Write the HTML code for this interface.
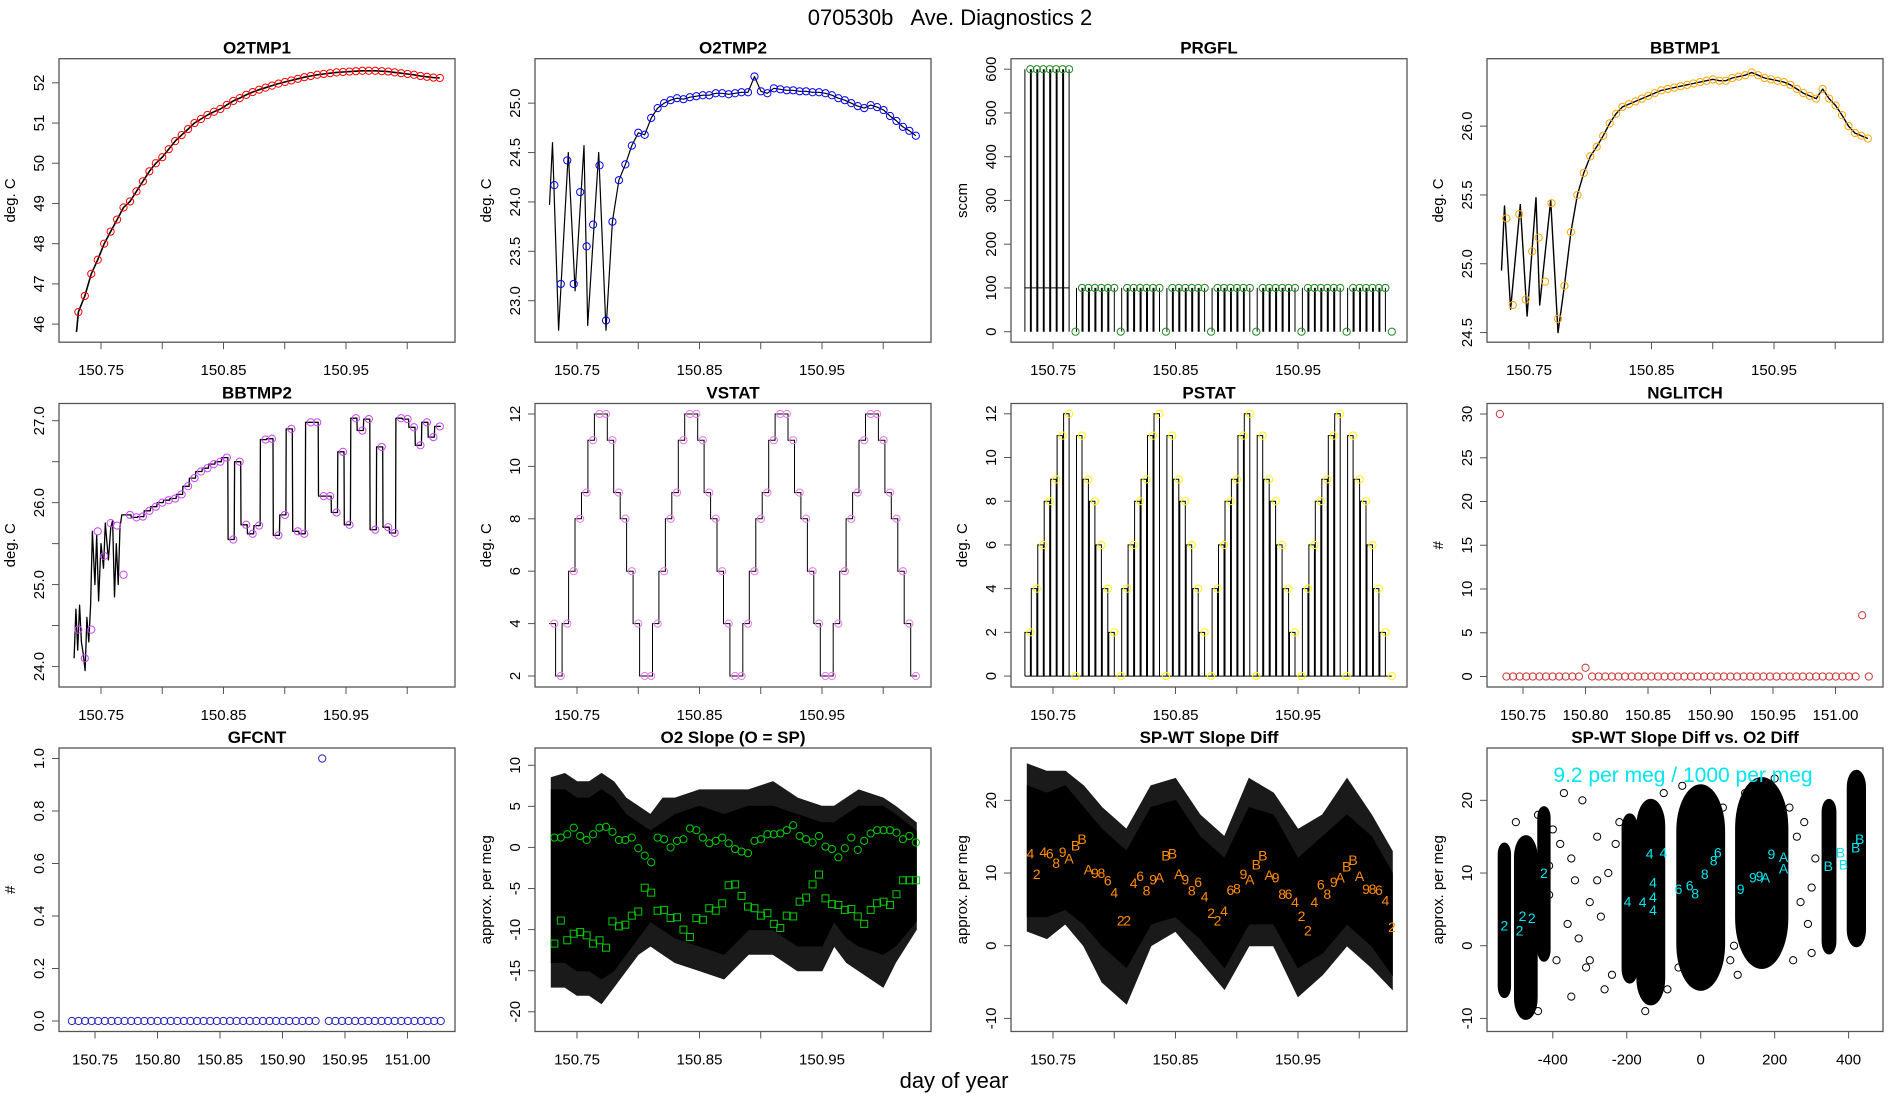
<!DOCTYPE html>
<html><head><meta charset="utf-8">
<style>
html,body{margin:0;padding:0;background:#fff;}
svg{display:block;font-family:"Liberation Sans",Arial,sans-serif;}
</style></head>
<body>
<svg id="root" xmlns="http://www.w3.org/2000/svg" width="1900" height="1100" viewBox="0 0 1900 1100">
<rect x="0" y="0" width="1900" height="1100" fill="#fff"/>
<text x="950" y="25" text-anchor="middle" font-size="22" fill="#000" xml:space="preserve">070530b   Ave. Diagnostics 2</text>
<text x="954" y="1088" text-anchor="middle" font-size="22" fill="#000">day of year</text>
</svg>
<script>
// ---------- DATA ----------
const sampleCount = 57;
const sampleStart = 150.7315;
const sampleStep = 0.00527;
const T = [];
for (let i = 0; i < sampleCount; i++) T.push(sampleStart + i * sampleStep);

const o2tmp1Values = [46.3,46.7,47.25,47.6,48.0,48.3,48.6,48.9,49.05,49.3,49.55,49.8,50.0,50.15,50.35,50.55,50.7,50.85,51.0,51.1,51.2,51.28,51.35,51.45,51.55,51.62,51.7,51.77,51.83,51.88,51.93,51.98,52.02,52.06,52.1,52.14,52.17,52.2,52.22,52.24,52.26,52.27,52.28,52.29,52.3,52.3,52.3,52.29,52.28,52.26,52.24,52.22,52.2,52.17,52.15,52.13,52.12];

const o2tmp2Values = [24.17,23.17,24.42,23.17,24.1,23.55,23.77,24.37,22.8,23.8,24.22,24.38,24.57,24.7,24.68,24.85,24.95,25.0,25.03,25.05,25.04,25.06,25.07,25.08,25.08,25.1,25.1,25.09,25.1,25.11,25.11,25.27,25.12,25.1,25.15,25.14,25.13,25.13,25.12,25.12,25.11,25.11,25.1,25.08,25.05,25.03,25.0,24.97,24.95,24.98,24.96,24.93,24.87,24.82,24.76,24.72,24.67];
const o2tmp2EarlyT = [150.7275,150.7300,150.7350,150.7429,150.7484,150.7557,150.7587,150.7677,150.7737];
const o2tmp2EarlyV = [23.97,24.6,22.7,24.5,23.1,24.57,22.75,24.5,22.7];

const prgflValues = [600,600,600,600,600,600,600,0,100,100,100,100,100,100,0,100,100,100,100,100,100,0,100,100,100,100,100,100,0,100,100,100,100,100,100,0,100,100,100,100,100,100,0,100,100,100,100,100,100,0,100,100,100,100,100,100,0];

const bbtmp1Values = [25.33,24.7,25.36,24.74,25.09,25.19,24.87,25.44,24.6,24.84,25.23,25.5,25.66,25.78,25.85,25.93,26.02,26.09,26.14,26.16,26.18,26.2,26.22,26.24,26.26,26.27,26.28,26.29,26.3,26.31,26.32,26.33,26.34,26.33,26.33,26.35,26.36,26.37,26.39,26.37,26.35,26.34,26.33,26.32,26.3,26.27,26.24,26.22,26.2,26.27,26.2,26.15,26.08,26.0,25.95,25.93,25.91];
const bbtmp1EarlyT = [150.7275,150.7300,150.7350,150.7429,150.7484,150.7557,150.7587,150.7677,150.7737];
const bbtmp1EarlyV = [24.95,25.42,24.67,25.43,24.62,25.48,24.7,25.46,24.5];

const bbtmp2Values = [24.45,24.1,24.45,25.65,25.35,25.75,25.72,25.12,25.85,25.82,25.83,25.9,25.95,26.0,26.03,26.05,26.1,26.2,26.3,26.38,26.42,26.47,26.5,26.55,25.55,26.5,25.73,25.62,25.72,26.77,26.78,25.6,25.85,26.9,25.65,25.62,26.98,26.98,26.08,26.08,25.88,26.62,25.73,27.03,26.88,27.02,25.67,26.68,25.7,25.63,27.03,27.02,26.92,26.7,26.98,26.8,26.93];
const bbtmp2EarlyT = [150.728,150.7295,150.731,150.7325,150.734,150.7355,150.737,150.7385,150.740,150.7415,150.743,150.745,150.7465,150.748,150.750,150.752,150.7535,150.756,150.758,150.7595,150.761,150.7625,150.764,150.7655,150.767];
const bbtmp2EarlyV = [24.1,24.7,24.2,24.75,24.3,24.15,23.95,24.6,24.3,24.75,25.65,25.0,25.6,24.8,25.5,25.2,25.75,25.3,25.7,25.78,24.85,25.5,25.0,25.7,25.85];

const vstatValues = [4,2,4,6,8,9,11,12,12,11,9,8,6,4,2,2,4,6,8,9,11,12,12,11,9,8,6,4,2,2,4,6,8,9,11,12,12,11,9,8,6,4,2,2,4,6,8,9,11,12,12,11,9,8,6,4,2];

const pstatValues = [2,4,6,8,9,11,12,0,11,9,8,6,4,2,0,4,6,8,9,11,12,0,11,9,8,6,4,2,0,4,6,8,9,11,12,0,11,9,8,6,4,2,0,4,6,8,9,11,12,0,11,9,8,6,4,2,0];

const nglitchValues = [30,0,0,0,0,0,0,0,0,0,0,0,0,1,0,0,0,0,0,0,0,0,0,0,0,0,0,0,0,0,0,0,0,0,0,0,0,0,0,0,0,0,0,0,0,0,0,0,0,0,0,0,0,0,0,7,0];

const gfcntValues = [0,0,0,0,0,0,0,0,0,0,0,0,0,0,0,0,0,0,0,0,0,0,0,0,0,0,0,0,0,0,0,0,0,0,0,0,0,0,1,0,0,0,0,0,0,0,0,0,0,0,0,0,0,0,0,0,0];

const slopeBandT = [150.729,150.74,150.75,150.76,150.77,150.78,150.79,150.80,150.81,150.82,150.83,150.85,150.87,150.89,150.91,150.93,150.95,150.96,150.97,150.98,151.0,151.01,151.027];
const slopeBandHi = [7,7,6,6,7,6,4,3,2,3,4,5,4,5,5,4,3,3,4,5,5,4,2];
const slopeBandLo = [-14,-14,-15,-15,-16,-15,-13,-11,-9,-10,-11,-12,-13,-10,-10,-12,-12,-9,-11,-12,-13,-12,-9];
const slopeOuterHi = [8.5,9,8,8,9,8,6,5,4,6,6,7,7,7,8,6,5,5,6,7,6,5,3];
const slopeOuterLo = [-17,-17,-18,-18,-19,-17,-15,-13,-12,-13,-14,-15,-16,-13,-13,-15,-15,-12,-14,-15,-17,-14,-10];
const slopeCircleValues = [1.2,1.2,1.6,2.4,1.4,0.9,1.6,2.4,2.5,1.9,0.9,0.9,1.2,-0.1,-1.0,-1.8,1.2,1.0,0.0,0.8,1.0,2.3,2.1,1.2,0.5,0.8,1.2,0.5,-0.2,-0.5,-0.7,0.8,1.0,1.6,1.6,1.7,2.1,2.7,1.4,1.0,0.6,1.4,0.1,-0.2,-1.2,-0.1,1.2,-0.3,0.8,1.7,2.1,2.1,2.1,1.8,1.0,1.4,0.6];
const slopeSquareValues = [-11.7,-8.9,-11.3,-10.5,-10.3,-10.7,-11.7,-11.3,-12.2,-9.0,-9.6,-9.4,-8.3,-7.8,-4.9,-5.5,-7.7,-7.6,-8.6,-8.5,-10.0,-10.9,-8.6,-8.8,-7.4,-7.7,-6.8,-4.6,-4.5,-5.9,-7.2,-7.4,-8.3,-8.0,-9.3,-9.8,-8.3,-8.4,-6.6,-6.1,-4.5,-3.3,-6.2,-6.9,-7.0,-7.6,-7.5,-8.4,-9.3,-7.6,-6.8,-6.6,-7.0,-5.7,-4.0,-4.0,-4.0];

const diffBandT = [150.729,150.745,150.76,150.775,150.79,150.81,150.83,150.85,150.87,150.89,150.91,150.93,150.95,150.97,150.99,151.01,151.027];
const diffBandHi = [22,21,22,19,16,13,19,20,15,12,19,18,12,15,18,15,10];
const diffBandLo = [4,4,5,3,0,-3,3,4,1,-3,3,3,-3,-1,3,0,-4];
const diffOuterHi = [25,24,24,22,19,16,22,23,18,15,23,21,16,18,23,18,13];
const diffOuterLo = [2,1,3,0,-5,-8,0,2,-2,-6,0,0,-7,-4,0,-3,-6];
const diffLabelValues = [12.7,9.9,12.9,12.7,11.4,12.9,12.0,13.8,14.7,10.5,10.0,10.0,9.0,7.3,3.5,3.5,8.6,9.6,7.6,9.1,9.4,12.4,12.7,9.9,9.1,7.6,8.8,6.8,4.5,3.5,4.8,7.7,7.9,9.9,9.1,11.2,12.4,9.7,9.4,7.1,7.1,6.0,4.1,2.1,6.0,8.4,7.1,8.8,9.4,10.9,11.8,9.6,7.8,7.8,7.7,6.2,2.6];
const diffLabelChars = ['4','2','4','6','8','9','A','B','B','A','9','8','6','4','2','2','4','6','8','9','A','B','B','A','9','8','6','4','2','2','4','6','8','9','A','B','B','A','9','8','6','4','2','2','4','6','8','9','A','B','B','A','9','8','6','4','2'];

const clusterX = [-531,-473,-424,-192,-135,0,165,347,421];
const clusterHalfW = [14,28,14,18,35,62,68,16,22];
const clusterLo = [-7,-10,-2,-5,-8,-6,-3,-1,0];
const clusterHi = [14,15,19,18,20,22,23,20,24];
const scatterX = [-500,-480,-440,-400,-380,-370,-350,-340,-320,-300,-280,-360,-330,-300,-270,-250,-240,-220,-260,-350,-390,-410,-60,60,80,100,260,270,290,300,250,280,310,-90,-100,200,-50,120,-150,-440,-410,-310,-230,-280,240,300,90];
const scatterY = [17,14,18,16,14,21,12,9,20,6,15,3,1,-2,4,10,-4,17,-6,-7,-2,7,-3,19,-2,-4,15,6,3,-1,-2,17,12,-6,21,23,22,21,-9,-9,11,-3,14,9,19,8,0];
const cyanX = [-531,-490,-482,-457,-424,-198,-157,-129,-129,-129,-138,-101,-60,-30,-15,11,35,46,108,141,159,175,191,224,224,345,378,386,419,430];
const cyanY = [2.75,2.1,4.1,3.8,10,6.1,6,8.7,6.7,4.9,12.7,12.8,7.8,8.3,7.2,9.9,11.7,12.8,7.8,9.4,9.6,9.4,12.6,12.2,10.6,11,12.8,11.2,13.5,14.7];
const cyanChars = ['2','2','2','2','2','4','4','4','4','4','4','4','6','6','8','8','8','6','9','9','9','A','9','A','A','B','B','B','B','B'];

const timeTicks = [150.75,150.80,150.85,150.90,150.95,151.00];
const timeTickLabels = ['150.75','','150.85','','150.95',''];
const timeTickLabelsAll = ['150.75','150.80','150.85','150.90','150.95','151.00'];
const scatterXTicks = [-400,-200,0,200,400];

// ---------- LAYOUT ----------
const NS = 'http://www.w3.org/2000/svg';
const root = document.getElementById('root');
const colLeft = [59,535,1011,1487];
const rowTop = [58.7,403.5,748];
const PW = 396, PH = 283.5;
const XLIM_T = [150.7157,151.039];
const XLIM_T2 = [150.7212,151.038];
let clipId = 0;

function mk(tag, attrs, parent) {
  const el = document.createElementNS(NS, tag);
  for (const k in attrs) el.setAttribute(k, attrs[k]);
  parent.appendChild(el);
  return el;
}

function makePanel(c, r, name, title, xlim, ylim, xt, xl, yt, yl, ylab) {
  const x0 = colLeft[c], y0 = rowTop[r];
  const g = mk('g', {}, root);
  
  
  const sx = v => x0 + (v - xlim[0]) / (xlim[1] - xlim[0]) * PW;
  const sy = v => y0 + PH - (v - ylim[0]) / (ylim[1] - ylim[0]) * PH;
  const cid = 'clip' + (clipId++);
  const cp = mk('clipPath', {id: cid}, g);
  mk('rect', {x: x0, y: y0, width: PW, height: PH}, cp);
  const plot = mk('g', {'clip-path': 'url(#' + cid + ')'}, g);
  
  
  const t = mk('text', {x: x0 + PW / 2, y: y0 - 5, 'text-anchor': 'middle', 'font-size': 17, 'font-weight': 'bold'}, g);
  t.textContent = title;
  
  
  for (let i = 0; i < xt.length; i++) {
    const px = sx(xt[i]);
    const tk = mk('line', {x1: px, x2: px, y1: y0 + PH, y2: y0 + PH + 7, stroke: '#555', 'stroke-width': 1}, g);
    
    
    if (xl[i]) {
      const lt = mk('text', {x: px, y: y0 + PH + 33, 'text-anchor': 'middle', 'font-size': 15}, g);
      lt.textContent = xl[i];
      
      
    }
  }
  for (let i = 0; i < yt.length; i++) {
    const py = sy(yt[i]);
    const tk = mk('line', {x1: x0 - 7, x2: x0, y1: py, y2: py, stroke: '#555', 'stroke-width': 1}, g);
    
    
    if (yl[i]) {
      const lx = x0 - 15;
      const lt = mk('text', {x: lx, y: py, 'text-anchor': 'middle', 'font-size': 15, transform: 'rotate(-90 ' + lx + ' ' + py + ')'}, g);
      lt.textContent = yl[i];
      
      
    }
  }
  const yx = x0 - 44, yy = y0 + PH / 2;
  const yt2 = mk('text', {x: yx, y: yy, 'text-anchor': 'middle', 'font-size': 15, transform: 'rotate(-90 ' + yx + ' ' + yy + ')'}, g);
  yt2.textContent = ylab;
  
  
  const box = mk('rect', {x: x0, y: y0, width: PW, height: PH, fill: 'none', stroke: '#555', 'stroke-width': 1.3}, g);
  
  
  return {sx, sy, plot};
}

function polyline(P, xs, ys, stroke, sw, name) {
  let d = '';
  for (let i = 0; i < xs.length; i++) d += (i ? 'L' : 'M') + P.sx(xs[i]).toFixed(1) + ' ' + P.sy(ys[i]).toFixed(1);
  const p = mk('path', {d: d, fill: 'none', stroke: stroke, 'stroke-width': sw, 'stroke-linejoin': 'round'}, P.plot);
  
  
  return p;
}
function circles(P, xs, ys, color, name) {
  for (let i = 0; i < xs.length; i++) {
    const c = mk('circle', {cx: P.sx(xs[i]), cy: P.sy(ys[i]), r: 3.6, fill: 'none', stroke: color, 'stroke-width': 1}, P.plot);
    
    
  }
}
function band(P, ts, hi, lo, fill, name) {
  let d = '';
  for (let i = 0; i < ts.length; i++) d += (i ? 'L' : 'M') + P.sx(ts[i]).toFixed(1) + ' ' + P.sy(hi[i]).toFixed(1);
  for (let i = ts.length - 1; i >= 0; i--) d += 'L' + P.sx(ts[i]).toFixed(1) + ' ' + P.sy(lo[i]).toFixed(1);
  const p = mk('path', {d: d + 'Z', fill: fill, stroke: fill, 'stroke-width': 1}, P.plot);
  
  
}
function range(a, b, s) { const r = []; for (let v = a; v <= b + 1e-9; v += s) r.push(+v.toFixed(4)); return r; }
const dt = sampleStep;

// 1 O2TMP1
{
  const yt = range(46, 52, 1);
  const P = makePanel(0, 0, 'o2tmp1', 'O2TMP1', XLIM_T, [45.55, 52.6], timeTicks, timeTickLabels, yt, yt.map(String), 'deg. C');
  polyline(P, [T[0] - 0.0015].concat(T), [45.8].concat(o2tmp1Values), '#000', 1.6, 'o2tmp1-line');
  circles(P, T, o2tmp1Values, '#FF0000', 'o2tmp1-point');
}
// 2 O2TMP2
{
  const yt = range(23, 25, 0.5);
  const P = makePanel(1, 0, 'o2tmp2', 'O2TMP2', XLIM_T, [22.58, 25.45], timeTicks, timeTickLabels, yt, yt.map(v => v.toFixed(1)), 'deg. C');
  polyline(P, o2tmp2EarlyT.concat(T.slice(9)), o2tmp2EarlyV.concat(o2tmp2Values.slice(9)), '#000', 1.2, 'o2tmp2-line');
  circles(P, T, o2tmp2Values, '#0000FF', 'o2tmp2-point');
}
// 3 PRGFL
{
  const yt = range(0, 600, 100);
  const P = makePanel(2, 0, 'prgfl', 'PRGFL', XLIM_T, [-24, 624], timeTicks, timeTickLabels, yt, yt.map(String), 'sccm');
  let d = '';
  for (let i = 0; i < T.length; i++) {
    if (prgflValues[i] <= 0) continue;
    const a = P.sx(T[i] - 0.85 * dt).toFixed(1), b = P.sx(T[i]).toFixed(1);
    d += 'M' + a + ' ' + P.sy(0).toFixed(1) + 'V' + P.sy(prgflValues[i]).toFixed(1) + 'M' + b + ' ' + P.sy(prgflValues[i]).toFixed(1) + 'V' + P.sy(0).toFixed(1);
    if (prgflValues[i] > 100) d += 'M' + a + ' ' + P.sy(100).toFixed(1) + 'H' + b;
  }
  const p = mk('path', {d: d, fill: 'none', stroke: '#000', 'stroke-width': 1}, P.plot);
  
  
  circles(P, T, prgflValues, '#228B22', 'prgfl-point');
}
// 4 BBTMP1
{
  const yt = range(24.5, 26, 0.5);
  const P = makePanel(3, 0, 'bbtmp1', 'BBTMP1', XLIM_T, [24.43, 26.49], timeTicks, timeTickLabels, yt, yt.map(v => v.toFixed(1)), 'deg. C');
  polyline(P, bbtmp1EarlyT.concat(T.slice(9)), bbtmp1EarlyV.concat(bbtmp1Values.slice(9)), '#000', 1.4, 'bbtmp1-line');
  circles(P, T, bbtmp1Values, '#FFA500', 'bbtmp1-point');
}
// 5 BBTMP2
{
  const yt = range(24, 27, 0.5);
  const P = makePanel(0, 1, 'bbtmp2', 'BBTMP2', XLIM_T, [23.75, 27.21], timeTicks, timeTickLabels, yt, yt.map(v => Number.isInteger(v) ? v.toFixed(1) : ''), 'deg. C');
  const xs = [], ys = [];
  for (let i = 0; i < bbtmp2EarlyT.length; i++) { xs.push(bbtmp2EarlyT[i]); ys.push(bbtmp2EarlyV[i]); }
  for (let i = 8; i < T.length; i++) {
    xs.push(T[i] - 0.8 * dt); ys.push(bbtmp2Values[i]);
    xs.push(T[i] + 0.15 * dt); ys.push(bbtmp2Values[i]);
  }
  polyline(P, xs, ys, '#000', 1.3, 'bbtmp2-line');
  circles(P, T, bbtmp2Values, '#CC44FF', 'bbtmp2-point');
}
// 6 VSTAT
{
  const yt = range(2, 12, 2);
  const P = makePanel(1, 1, 'vstat', 'VSTAT', XLIM_T, [1.58, 12.4], timeTicks, timeTickLabels, yt, yt.map(String), 'deg. C');
  let d = 'M' + P.sx(T[0] - 0.8 * dt).toFixed(1) + ' ' + P.sy(vstatValues[0]).toFixed(1);
  for (let i = 0; i < T.length; i++) {
    d += 'H' + P.sx(T[i] + 0.2 * dt).toFixed(1);
    if (i + 1 < T.length) d += 'V' + P.sy(vstatValues[i + 1]).toFixed(1);
  }
  const p = mk('path', {d: d, fill: 'none', stroke: '#000', 'stroke-width': 1}, P.plot);
  
  
  circles(P, T, vstatValues, '#EE77EE', 'vstat-point');
}
// 7 PSTAT
{
  const yt = range(0, 12, 2);
  const P = makePanel(2, 1, 'pstat', 'PSTAT', XLIM_T, [-0.5, 12.47], timeTicks, timeTickLabels, yt, yt.map(String), 'deg. C');
  let d = '';
  for (let i = 0; i < T.length; i++) {
    if (pstatValues[i] <= 0) continue;
    const a = P.sx(T[i] - 0.85 * dt).toFixed(1), b = P.sx(T[i]).toFixed(1);
    d += 'M' + a + ' ' + P.sy(0).toFixed(1) + 'V' + P.sy(pstatValues[i]).toFixed(1) + 'H' + b + 'V' + P.sy(0).toFixed(1);
  }
  d += 'M' + P.sx(T[0] - 0.85 * dt).toFixed(1) + ' ' + P.sy(0).toFixed(1) + 'H' + P.sx(T[T.length - 1]).toFixed(1);
  const p = mk('path', {d: d, fill: 'none', stroke: '#000', 'stroke-width': 1}, P.plot);
  
  
  circles(P, T, pstatValues, '#FFFF00', 'pstat-point');
}
// 8 NGLITCH
{
  const yt = range(0, 30, 5);
  const P = makePanel(3, 1, 'nglitch', 'NGLITCH', XLIM_T2, [-1.2, 31.2], timeTicks, timeTickLabelsAll, yt, yt.map(String), '#');
  circles(P, T, nglitchValues, '#CD3333', 'nglitch-point');
}
// 9 GFCNT
{
  const yt = range(0, 1, 0.2);
  const P = makePanel(0, 2, 'gfcnt', 'GFCNT', XLIM_T2, [-0.04, 1.04], timeTicks, timeTickLabelsAll, yt, yt.map(v => v.toFixed(1)), '#');
  circles(P, T, gfcntValues, '#2222BB', 'gfcnt-point');
}
// 10 O2 Slope
{
  const yt = range(-20, 10, 5);
  const P = makePanel(1, 2, 'o2-slope', 'O2 Slope (O = SP)', XLIM_T, [-22.4, 12.1], timeTicks, timeTickLabels, yt, yt.map(String), 'approx. per meg');
  band(P, slopeBandT, slopeOuterHi, slopeOuterLo, '#1a1a1a', 'o2-slope-outer-band');
  band(P, slopeBandT, slopeBandHi, slopeBandLo, '#000', 'o2-slope-band');
  circles(P, T, slopeCircleValues, '#00CC00', 'o2-slope-circle');
  for (let i = 0; i < T.length; i++) {
    const s = mk('rect', {x: P.sx(T[i]) - 3.5, y: P.sy(slopeSquareValues[i]) - 3.5, width: 7, height: 7, fill: 'none', stroke: '#00CC00', 'stroke-width': 1}, P.plot);
    
    
  }
}
// 11 SP-WT Slope Diff
{
  const yt = [-10, 0, 10, 20];
  const P = makePanel(2, 2, 'spwt-diff', 'SP-WT Slope Diff', XLIM_T, [-11.8, 27.2], timeTicks, timeTickLabels, yt, yt.map(String), 'approx. per meg');
  band(P, diffBandT, diffOuterHi, diffOuterLo, '#1a1a1a', 'spwt-diff-outer-band');
  band(P, diffBandT, diffBandHi, diffBandLo, '#000', 'spwt-diff-band');
  for (let i = 0; i < T.length; i++) {
    const tx = mk('text', {x: P.sx(T[i]), y: P.sy(diffLabelValues[i]) + 5, 'text-anchor': 'middle', 'font-size': 14, fill: '#FF8C00'}, P.plot);
    tx.textContent = diffLabelChars[i];
    
    
  }
}
// 12 scatter
{
  const yt = [-10, 0, 10, 20];
  const P = makePanel(3, 2, 'spwt-vs-o2', 'SP-WT Slope Diff vs. O2 Diff', [-578, 493], [-11.8, 27.2], scatterXTicks, scatterXTicks.map(String), yt, yt.map(String), 'approx. per meg');
  for (let i = 0; i < clusterX.length; i++) {
    const x1 = P.sx(clusterX[i] - clusterHalfW[i]), x2 = P.sx(clusterX[i] + clusterHalfW[i]);
    const y1 = P.sy(clusterHi[i]), y2 = P.sy(clusterLo[i]);
    const w = x2 - x1;
    const e = mk('rect', {x: x1, y: y1, width: w, height: y2 - y1, rx: w / 2, ry: w, fill: '#000', stroke: '#000', 'stroke-width': 3}, P.plot);
    
    
  }
  circles(P, scatterX, scatterY, '#000', 'scatter-point');
  for (let i = 0; i < cyanX.length; i++) {
    const tx = mk('text', {x: P.sx(cyanX[i]), y: P.sy(cyanY[i]) + 5, 'text-anchor': 'middle', 'font-size': 14, fill: '#00E5EE'}, P.plot);
    tx.textContent = cyanChars[i];
    
    
  }
  const note = mk('text', {x: 1683, y: 782, 'text-anchor': 'middle', 'font-size': 21, fill: '#00E5EE'}, P.plot);
  note.textContent = '9.2 per meg / 1000 per meg';
  
  
}
</script>
</body></html>
